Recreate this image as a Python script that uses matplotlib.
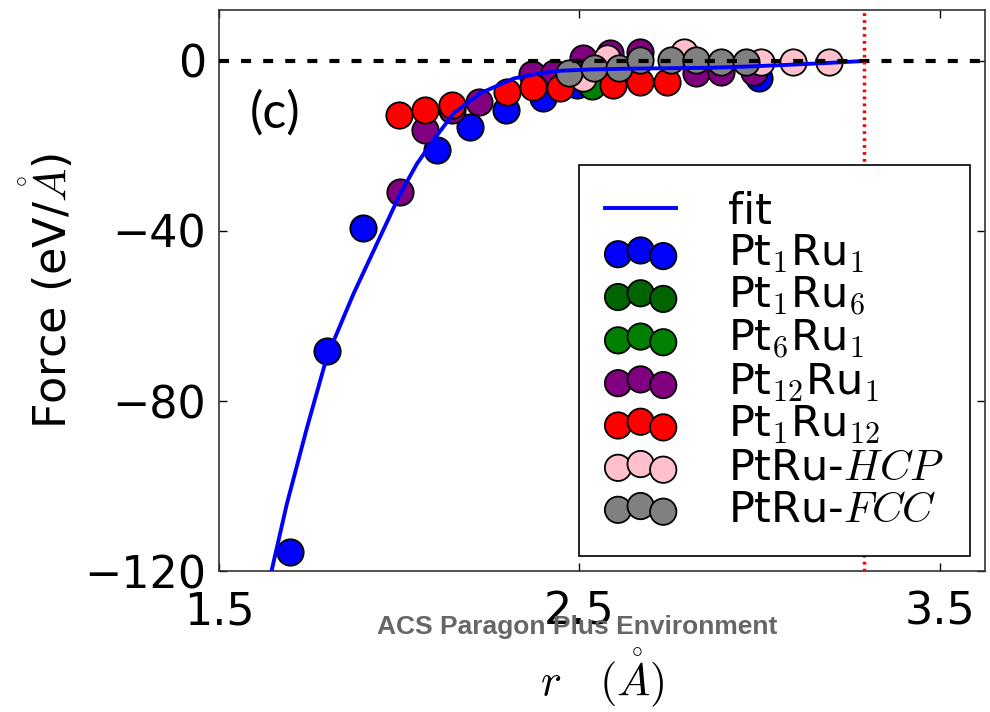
import numpy as np
import matplotlib
matplotlib.use('Agg')
import matplotlib.pyplot as plt

plt.rcParams['mathtext.fontset'] = 'cm'
plt.rcParams['font.family'] = 'DejaVu Sans'
plt.rcParams['font.size'] = 32
plt.rcParams['axes.unicode_minus'] = True

# fit curve
r_fit = [1.643, 1.688, 1.744, 1.799, 1.873, 1.938, 2.003, 2.049, 2.095, 2.151,
         2.225, 2.318, 2.392, 2.447, 2.53, 2.64, 2.75, 2.86, 2.97, 3.08, 3.18, 3.29]
f_fit = [-121.0, -104.3, -86.3, -69.7, -54.8, -43.0, -31.2, -24.2, -18.6, -12.3,
         -7.6, -4.1, -2.9, -2.3, -2.0, -1.8, -1.7, -1.6, -1.3, -0.9, -0.5, 0.0]

r_pt1ru1 = [1.697, 1.800, 1.900, 2.105, 2.197, 2.297, 2.399, 2.494, 2.998]
f_pt1ru1 = [-115.5, -68.2, -39.4, -21.0, -15.5, -11.6, -8.8, -5.7, -4.1]

r_pt1ru6 = [2.528]
f_pt1ru6 = [-5.3]

r_pt6ru1 = [2.536]
f_pt6ru1 = [-6.0]

r_pt12ru1 = [2.002, 2.072, 2.146, 2.220, 2.369, 2.428, 2.511, 2.586, 2.669, 2.822, 2.892, 2.983]
f_pt12ru1 = [-30.8, -16.3, -11.6, -9.6, -3.1, -2.9, 0.6, 1.8, 2.2, -2.9, -2.5, -2.5]

r_pt1ru12 = [1.998, 2.072, 2.146, 2.298, 2.372, 2.446, 2.594, 2.669, 2.744]
f_pt1ru12 = [-12.7, -11.6, -10.4, -7.2, -6.1, -6.4, -5.6, -4.9, -4.9]

r_hcp = [2.511, 2.577, 2.789, 3.003, 3.091, 3.193]
f_hcp = [-4.1, 0.6, 2.2, -0.2, -0.2, -0.2]

r_fcc = [2.470, 2.540, 2.609, 2.669, 2.753, 2.822, 2.892, 2.961]
f_fcc = [-2.9, -1.7, -1.7, 0.2, 0.2, 0.2, -0.2, -0.2]

r_cut = 3.29

fig = plt.figure(figsize=(9.9, 7.12), dpi=100)
ax = fig.add_axes([0.2212, 0.198, 0.7738, 0.788])

ax.plot(r_fit, f_fit, color='blue', lw=2.8, label='fit', zorder=3)
s = 360
ax.scatter(r_pt1ru1, f_pt1ru1, s=s, c='blue', edgecolors='k', lw=1.3, label=r'Pt$_1$Ru$_1$', zorder=2)
ax.scatter(r_pt1ru6, f_pt1ru6, s=s, c='darkgreen', edgecolors='k', lw=1.3, label=r'Pt$_1$Ru$_6$', zorder=2)
ax.scatter(r_pt6ru1, f_pt6ru1, s=s, c='green', edgecolors='k', lw=1.3, label=r'Pt$_6$Ru$_1$', zorder=2)
ax.scatter(r_pt12ru1, f_pt12ru1, s=s, c='purple', edgecolors='k', lw=1.3, label=r'Pt$_{12}$Ru$_1$', zorder=2)
ax.scatter(r_pt1ru12, f_pt1ru12, s=s, c='red', edgecolors='k', lw=1.3, label=r'Pt$_1$Ru$_{12}$', zorder=2)
ax.scatter(r_hcp, f_hcp, s=s, c='pink', edgecolors='k', lw=1.3, label=r'PtRu-$HCP$', zorder=2)
ax.scatter(r_fcc, f_fcc, s=s, c='gray', edgecolors='k', lw=1.3, label=r'PtRu-$FCC$', zorder=2)

ax.axhline(0, color='k', lw=3, dashes=(2.4, 2.9), zorder=4)
ax.axvline(r_cut, color='red', lw=2.5, dashes=(0.8, 1.2), zorder=4)

ax.set_xlim(1.5, 3.625)
ax.set_ylim(-120, 12)
ax.set_xticks([1.5, 2.5, 3.5])
ax.set_xticklabels(['1.5', '2.5', '3.5'])
ax.set_yticks([-120, -80, -40, 0])
ax.tick_params(direction='in', length=6, width=1, top=True, right=True)
ax.tick_params(axis='x', pad=14)
ax.tick_params(axis='y', pad=9)
for sp in ax.spines.values():
    sp.set_linewidth(1.2)
    sp.set_color('#333333')

ax.set_xlabel(r'$r\quad(\mathring{A})$', labelpad=9)
ax.set_ylabel(r'Force (eV/$\mathring{A}$)', labelpad=6)

ax.text(0.073, 0.815, '(c)', transform=ax.transAxes, ha='center', va='center',
        fontsize=36, family='Lato')

leg = ax.legend(loc='lower right', fontsize=31, scatterpoints=3,
                scatteryoffsets=[0.375, 0.5, 0.3125], fancybox=False,
                framealpha=1, edgecolor='k', labelspacing=0.0,
                handlelength=1.65, handletextpad=1.2, borderpad=0.6,
                borderaxespad=0.35)
leg.get_frame().set_linewidth(1.2)

fig.text(0.583, 0.119, 'ACS Paragon Plus Environment', ha='center', va='center',
         fontsize=19, fontweight='bold', color='#666666', family='Liberation Sans')

fig.savefig('out.png', dpi=100)
